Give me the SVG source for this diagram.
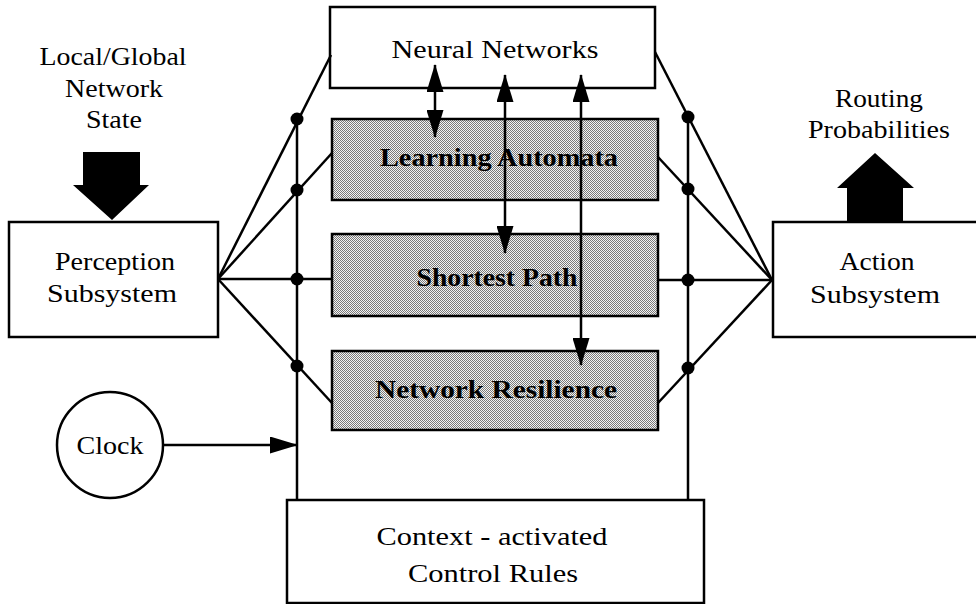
<svg xmlns="http://www.w3.org/2000/svg" width="976" height="604" viewBox="0 0 976 604">
<style>
.box{fill:#fff;stroke:#000;stroke-width:2.5}
.sh{fill:url(#dots);stroke:#000;stroke-width:2.5}
.t{font-family:"Liberation Serif","Times New Roman",serif;font-size:26px;fill:#000;text-anchor:middle}
.b{font-weight:bold}
.ln{stroke:#000;stroke-width:2.5;fill:none}
.ar{stroke:#000;stroke-width:2.5;fill:none;marker-end:url(#ah)}
.ar2{stroke:#000;stroke-width:2.5;fill:none;marker-start:url(#ah);marker-end:url(#ah)}
.dot{fill:#000}
</style>
<defs>
<pattern id="dots" width="2" height="2" patternUnits="userSpaceOnUse">
<rect width="2" height="2" fill="#f4f4f4"/>
<rect width="1" height="1" fill="#7a7a7a"/>
<rect x="1" y="1" width="1" height="1" fill="#7a7a7a"/>
</pattern>
<marker id="ah" markerUnits="userSpaceOnUse" markerWidth="28" markerHeight="17" refX="27" refY="8.5" orient="auto-start-reverse">
<path d="M0,0 L28,8.5 L0,17 z" fill="#000"/>
</marker>
</defs>
<rect width="976" height="604" fill="#fff"/>

<g id="local-global-label">
<text class="t" x="113" y="65" textLength="147" lengthAdjust="spacingAndGlyphs">Local/Global</text>
<text class="t" x="114" y="97" textLength="98" lengthAdjust="spacingAndGlyphs">Network</text>
<text class="t" x="114" y="128" textLength="56" lengthAdjust="spacingAndGlyphs">State</text>
</g>

<g id="routing-label">
<text class="t" x="879" y="107" textLength="88" lengthAdjust="spacingAndGlyphs">Routing</text>
<text class="t" x="879" y="138" textLength="142" lengthAdjust="spacingAndGlyphs">Probabilities</text>
</g>

<g id="neural-networks">
<rect class="box" x="330" y="7" width="325" height="81"/>
<text class="t" x="495" y="58" textLength="207" lengthAdjust="spacingAndGlyphs">Neural Networks</text>
</g>

<g id="learning-automata">
<rect class="sh" x="332" y="119" width="326" height="81"/>
<text class="t b" x="499" y="166" textLength="238" lengthAdjust="spacingAndGlyphs">Learning Automata</text>
</g>

<g id="shortest-path">
<rect class="sh" x="332" y="234" width="326" height="82"/>
<text class="t b" x="497" y="286" textLength="161" lengthAdjust="spacingAndGlyphs">Shortest Path</text>
</g>

<g id="network-resilience">
<rect class="sh" x="332" y="351" width="326" height="79"/>
<text class="t b" x="496" y="398" textLength="242" lengthAdjust="spacingAndGlyphs">Network Resilience</text>
</g>

<g id="perception">
<rect class="box" x="9" y="222" width="209" height="115"/>
<text class="t" x="115" y="270" textLength="120" lengthAdjust="spacingAndGlyphs">Perception</text>
<text class="t" x="112" y="302" textLength="130" lengthAdjust="spacingAndGlyphs">Subsystem</text>
</g>

<g id="action">
<rect class="box" x="773" y="222" width="215" height="115"/>
<text class="t" x="877" y="270" textLength="75" lengthAdjust="spacingAndGlyphs">Action</text>
<text class="t" x="875" y="303" textLength="130" lengthAdjust="spacingAndGlyphs">Subsystem</text>
</g>

<g id="clock">
<circle class="box" cx="110" cy="445" r="53"/>
<text class="t" x="110" y="454" textLength="67" lengthAdjust="spacingAndGlyphs">Clock</text>
</g>

<g id="context-rules">
<rect class="box" x="287" y="500" width="417" height="103"/>
<text class="t" x="492" y="545" textLength="231" lengthAdjust="spacingAndGlyphs">Context - activated</text>
<text class="t" x="493" y="582" textLength="170" lengthAdjust="spacingAndGlyphs">Control Rules</text>
</g>

<g id="connectors">
<line class="ln" x1="297" y1="118" x2="297" y2="500"/>
<line class="ln" x1="688" y1="116" x2="688" y2="500"/>
<line class="ln" x1="218" y1="279" x2="331" y2="55"/>
<line class="ln" x1="218" y1="279" x2="332" y2="153"/>
<line class="ln" x1="218" y1="279" x2="332" y2="279"/>
<line class="ln" x1="218" y1="279" x2="332" y2="403"/>
<line class="ln" x1="772" y1="280" x2="655" y2="52"/>
<line class="ln" x1="772" y1="280" x2="658" y2="157"/>
<line class="ln" x1="772" y1="280" x2="658" y2="280"/>
<line class="ln" x1="772" y1="280" x2="658" y2="403"/>
<circle class="dot" cx="297" cy="119" r="6.5"/>
<circle class="dot" cx="297" cy="190" r="6.5"/>
<circle class="dot" cx="297" cy="279" r="6.5"/>
<circle class="dot" cx="297" cy="366" r="6.5"/>
<circle class="dot" cx="688" cy="117" r="6.5"/>
<circle class="dot" cx="688" cy="189" r="6.5"/>
<circle class="dot" cx="688" cy="280" r="6.5"/>
<circle class="dot" cx="688" cy="368" r="6.5"/>
<line class="ar2" x1="435" y1="65" x2="435" y2="137"/>
<line class="ar2" x1="505" y1="75" x2="505" y2="253"/>
<line class="ar2" x1="581" y1="75" x2="581" y2="365"/>
<line class="ar" x1="164" y1="445" x2="297" y2="445"/>
<polygon points="83,152 140,152 140,185 149,185 112,220 73,185 83,185" fill="#000"/>
<polygon points="847,223 847,188 837,188 875,153 914,188 903,188 903,223" fill="#000"/>
</g>
</svg>
